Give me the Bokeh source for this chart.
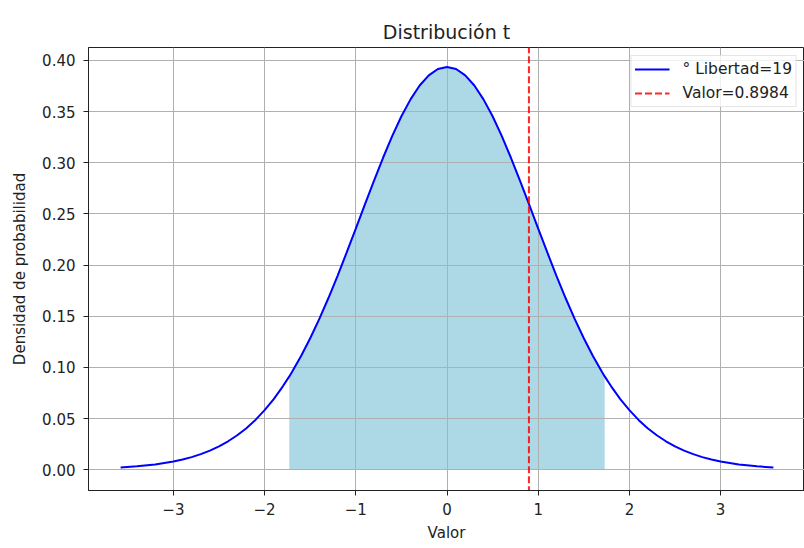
from bokeh.plotting import figure
from bokeh.models import FixedTicker, NumeralTickFormatter, Range1d, Legend, LegendItem
from bokeh.embed import file_html
from bokeh.resources import INLINE

# ---- data ----
x_vals = [-3.579, -3.4, -3.2, -3.0, -2.9, -2.8, -2.7, -2.6, -2.5, -2.4, -2.3, -2.2, -2.1, -2.0,
          -1.9, -1.8, -1.729, -1.7, -1.6, -1.5, -1.4, -1.3, -1.2, -1.1, -1.0, -0.9, -0.8, -0.7,
          -0.6, -0.5, -0.4, -0.3, -0.2, -0.1, 0.0, 0.1, 0.2, 0.3, 0.4, 0.5, 0.6, 0.7, 0.8, 0.9,
          1.0, 1.1, 1.2, 1.3, 1.4, 1.5, 1.6, 1.7, 1.729, 1.8, 1.9, 2.0, 2.1, 2.2, 2.3, 2.4, 2.5,
          2.6, 2.7, 2.8, 2.9, 3.0, 3.2, 3.4, 3.579]
density = [0.0023, 0.0034, 0.0053, 0.0082, 0.0101, 0.0124, 0.0153, 0.0188, 0.0229, 0.0279,
           0.0338, 0.0407, 0.0488, 0.0583, 0.0691, 0.0816, 0.0913, 0.0956, 0.1113, 0.1286,
           0.1475, 0.1679, 0.1896, 0.2124, 0.2357, 0.2594, 0.2827, 0.3052, 0.3263, 0.3455,
           0.3620, 0.3756, 0.3855, 0.3917, 0.3937, 0.3917, 0.3855, 0.3756, 0.3620, 0.3455,
           0.3263, 0.3052, 0.2827, 0.2594, 0.2357, 0.2124, 0.1896, 0.1679, 0.1475, 0.1286,
           0.1113, 0.0956, 0.0913, 0.0816, 0.0691, 0.0583, 0.0488, 0.0407, 0.0338, 0.0279,
           0.0229, 0.0188, 0.0153, 0.0124, 0.0101, 0.0082, 0.0053, 0.0034, 0.0023]
critical = 1.729
valor = 0.8984
grados = 19
x_ticks = [-3, -2, -1, 0, 1, 2, 3]
x_tick_labels = ["\u22123", "\u22122", "\u22121", "0", "1", "2", "3"]
y_ticks = [0.0, 0.05, 0.10, 0.15, 0.20, 0.25, 0.30, 0.35, 0.40]

FONT = "DejaVu Sans"

p = figure(width=804, height=548, output_backend="svg", toolbar_location=None,
           x_range=Range1d(-3.931, 3.920), y_range=Range1d(-0.0202, 0.4127),
           min_border_left=88, min_border_right=0, min_border_top=47, min_border_bottom=58,
           title="Distribución t")

p.title.text_font = FONT
p.title.text_font_size = "19px"
p.title.text_font_style = "normal"
p.title.align = "center"
p.title.text_color = "#222222"

p.outline_line_color = "#222222"
p.outline_line_width = 1
p.background_fill_color = "white"
p.border_fill_color = "white"

# shaded region
fx = [x for x in x_vals if abs(x) <= critical]
fy = [y for x, y in zip(x_vals, density) if abs(x) <= critical]
area = p.varea(x=fx, y1=[0.0] * len(fx), y2=fy, fill_color="#add8e6", level="image")

curve = p.line(x_vals, density, line_color="#0000ff", line_width=2)
vline = p.line([valor, valor], [-1.0, 1.0], line_color="#ff0000", line_width=2,
               line_dash="7 3", line_alpha=0.85)

# axes
p.xaxis.ticker = FixedTicker(ticks=x_ticks)
p.xaxis.major_label_overrides = {t: l for t, l in zip(x_ticks, x_tick_labels)}
p.yaxis.ticker = FixedTicker(ticks=y_ticks)
p.yaxis.formatter = NumeralTickFormatter(format="0.00")
for ax in (p.xaxis, p.yaxis):
    ax.minor_tick_line_color = None
    ax.major_tick_in = 0
    ax.major_tick_out = 5
    ax.major_tick_line_color = "#222222"
    ax.axis_line_color = "#222222"
    ax.major_label_text_font = FONT
    ax.major_label_text_font_size = "15px"
    ax.major_label_text_color = "#222222"
    ax.axis_label_text_font = FONT
    ax.axis_label_text_font_size = "15px"
    ax.axis_label_text_font_style = "normal"
    ax.axis_label_text_color = "#222222"
p.xaxis.axis_label = "Valor"
p.yaxis.axis_label = "Densidad de probabilidad"
p.xaxis.major_label_standoff = 7
p.yaxis.major_label_standoff = 8
p.xaxis.axis_label_standoff = 6
p.yaxis.axis_label_standoff = 10

p.grid.grid_line_color = "#b0b0b0"
p.grid.grid_line_width = 1
p.xgrid.ticker = FixedTicker(ticks=x_ticks)
p.ygrid.ticker = FixedTicker(ticks=y_ticks)

legend = Legend(items=[LegendItem(label="\u00b0 Libertad=" + str(grados), renderers=[curve]),
                       LegendItem(label="Valor=" + str(valor), renderers=[vline])],
                location="top_right")
legend.label_text_font = FONT
legend.label_text_font_size = "15.5px"
legend.label_text_color = "#222222"
legend.glyph_width = 35
legend.glyph_height = 20
legend.label_height = 20
legend.label_standoff = 13
legend.spacing = 4
legend.padding = 3
legend.margin = 8
legend.border_line_color = "#cccccc"
legend.background_fill_alpha = 0.8
p.add_layout(legend)

open("out.html", "w").write(file_html(p, INLINE))
